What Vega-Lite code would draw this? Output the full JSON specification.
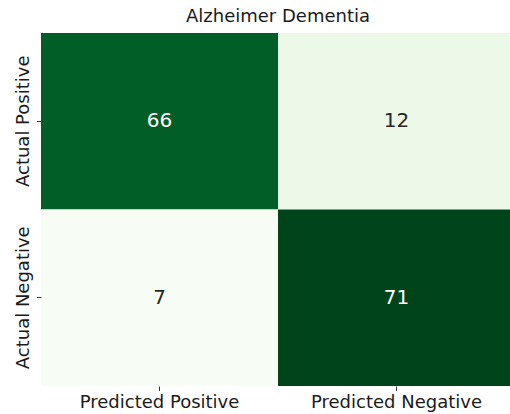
{
  "$schema": "https://vega.github.io/schema/vega-lite/v6.json",
  "width": 474,
  "height": 353,
  "autosize": {"type": "none"},
  "padding": {"left": 41, "top": 33, "right": 0, "bottom": 28},
  "background": "white",
  "config": {
    "view": {"stroke": null},
    "font": "DejaVu Sans"
  },
  "title": {
    "text": "Alzheimer Dementia",
    "font": "DejaVu Sans",
    "fontSize": 18,
    "fontWeight": "normal",
    "color": "#1a1a1a",
    "offset": 7,
    "anchor": "middle"
  },
  "data": {
    "values": [
      {"actual": "Actual Positive", "predicted": "Predicted Positive", "count": 66},
      {"actual": "Actual Positive", "predicted": "Predicted Negative", "count": 12},
      {"actual": "Actual Negative", "predicted": "Predicted Positive", "count": 7},
      {"actual": "Actual Negative", "predicted": "Predicted Negative", "count": 71}
    ]
  },
  "encoding": {
    "x": {
      "field": "predicted",
      "type": "nominal",
      "sort": ["Predicted Positive", "Predicted Negative"],
      "scale": {"paddingInner": 0, "paddingOuter": 0},
      "axis": {
        "title": null,
        "domain": false,
        "ticks": true,
        "tickSize": 4.5,
        "tickColor": "#333333",
        "labelAngle": 0,
        "labelFontSize": 18,
        "labelFont": "DejaVu Sans",
        "labelColor": "#1a1a1a",
        "labelPadding": 3
      }
    },
    "y": {
      "field": "actual",
      "type": "nominal",
      "sort": ["Actual Positive", "Actual Negative"],
      "scale": {"paddingInner": 0, "paddingOuter": 0},
      "axis": {
        "title": null,
        "domain": false,
        "ticks": true,
        "tickSize": 4.5,
        "tickColor": "#333333",
        "labelAngle": -90,
        "labelAlign": "center",
        "labelBaseline": "bottom",
        "labelFontSize": 18,
        "labelFont": "DejaVu Sans",
        "labelColor": "#1a1a1a",
        "labelPadding": 4
      }
    }
  },
  "layer": [
    {
      "mark": {"type": "rect", "strokeWidth": 0},
      "encoding": {
        "color": {
          "field": "count",
          "type": "quantitative",
          "scale": {
            "domain": [7, 15, 23, 31, 39, 47, 55, 63, 71],
            "range": ["#f7fcf5", "#e5f5e0", "#c7e9c0", "#a1d99b", "#74c476", "#41ab5d", "#238b45", "#006d2c", "#00441b"],
            "interpolate": "rgb"
          },
          "legend": null
        }
      }
    },
    {
      "mark": {"type": "text", "fontSize": 20, "font": "DejaVu Sans", "baseline": "middle", "align": "center"},
      "encoding": {
        "text": {"field": "count", "type": "quantitative"},
        "color": {
          "condition": {"test": "datum.count > 39", "value": "#ffffff"},
          "value": "#262626"
        }
      }
    }
  ]
}
